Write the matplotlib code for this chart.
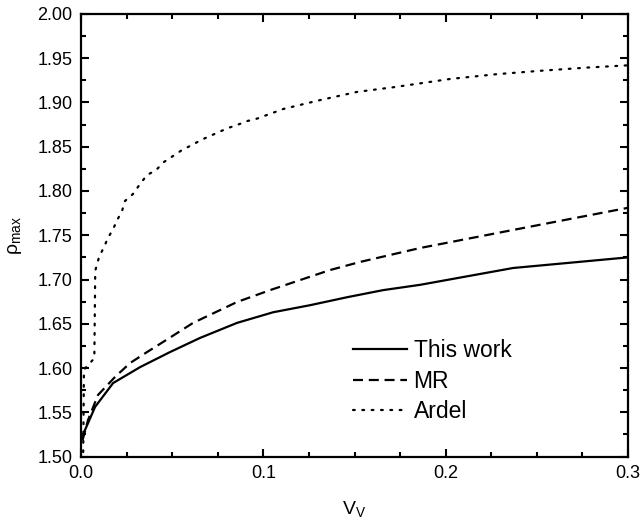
import matplotlib.pyplot as plt
from matplotlib.ticker import MultipleLocator

plt.rcParams['font.family'] = ['Liberation Sans', 'DejaVu Sans']
plt.rcParams['mathtext.fontset'] = 'custom'
plt.rcParams['mathtext.rm'] = 'Liberation Sans'
plt.rcParams['mathtext.it'] = 'Liberation Sans:italic'

# This work
vv_this = [0.0008, 0.0022, 0.0077, 0.0176, 0.0324, 0.0488, 0.0653, 0.0856,
           0.1054, 0.1257, 0.146, 0.1657, 0.186, 0.237, 0.30]
rho_this = [1.522, 1.530, 1.556, 1.583, 1.601, 1.618, 1.634, 1.651,
            1.663, 1.671, 1.680, 1.688, 1.694, 1.713, 1.725]

# MR
vv_mr = [0.0008, 0.0038, 0.0093, 0.0187, 0.0269, 0.0362, 0.045, 0.0615,
         0.0856, 0.1037, 0.1202, 0.1366, 0.153, 0.1695, 0.186, 0.237, 0.30]
rho_mr = [1.518, 1.541, 1.5695, 1.590, 1.6056, 1.618, 1.6294, 1.651,
          1.6746, 1.688, 1.6994, 1.7107, 1.7198, 1.7277, 1.7356, 1.756, 1.781]

# Ardel
vv_ardel = [0.0012, 0.0014, 0.0016, 0.0033, 0.0073, 0.0078, 0.0099, 0.0126,
            0.0148, 0.0176, 0.0198, 0.0225, 0.0241, 0.0285, 0.0324, 0.0362,
            0.0412, 0.0455, 0.0505, 0.0554, 0.0609, 0.0658, 0.0708, 0.0757,
            0.0807, 0.0856, 0.0911, 0.096, 0.111, 0.1317, 0.1515, 0.1723,
            0.2025, 0.228, 0.253, 0.278, 0.30]
rho_ardel = [1.505, 1.550, 1.598, 1.602, 1.611, 1.710, 1.7254, 1.7367,
             1.747, 1.757, 1.767, 1.7774, 1.7887, 1.7966, 1.808, 1.818,
             1.8237, 1.8328, 1.8396, 1.8463, 1.852, 1.8576, 1.8622, 1.8667,
             1.8712, 1.8746, 1.879, 1.8814, 1.8927, 1.903, 1.912, 1.9175,
             1.9266, 1.932, 1.936, 1.9395, 1.942]

fig = plt.figure(figsize=(6.41, 5.24), dpi=100)
ax = fig.add_axes([0.1264, 0.1288, 0.8533, 0.8445])

ax.plot(vv_this, rho_this, color='black', lw=1.6, ls='-', label='This work')
ax.plot(vv_mr, rho_mr, color='black', lw=1.6, ls=(0, (4.5, 2.6)), label='MR')
ax.plot(vv_ardel, rho_ardel, color='black', lw=1.6, ls=(0, (0.8, 3.4)),
        dash_capstyle='round', label='Ardel')

ax.set_xlim(0.0, 0.3)
ax.set_ylim(1.50, 2.00)
ax.xaxis.set_major_locator(MultipleLocator(0.1))
ax.xaxis.set_minor_locator(MultipleLocator(0.025))
ax.yaxis.set_major_locator(MultipleLocator(0.05))
ax.yaxis.set_minor_locator(MultipleLocator(0.025))
ax.set_xticks([0.0, 0.1, 0.2, 0.3])
ax.set_xticklabels(['0.0', '0.1', '0.2', '0.3'])
ax.set_yticks([1.50, 1.55, 1.60, 1.65, 1.70, 1.75, 1.80, 1.85, 1.90, 1.95, 2.00])
ax.set_yticklabels(['%.2f' % v for v in ax.get_yticks()])

ax.tick_params(which='both', direction='in', top=True, right=True,
               width=1.5, labelsize=13, pad=6)
ax.tick_params(which='major', length=6)
ax.tick_params(which='minor', length=3.5)
for sp in ax.spines.values():
    sp.set_linewidth(1.6)

ax.set_xlabel(r'$\mathrm{V_V}$', fontsize=14, labelpad=12)
ax.set_ylabel(r'$\mathrm{\rho_{max}}$', fontsize=14, labelpad=10)

ax.legend(loc='center left', bbox_to_anchor=(0.497, 0.17), frameon=False,
          fontsize=16.5, handlelength=2.35, handletextpad=0.3,
          labelspacing=0.32, borderpad=0, borderaxespad=0)

plt.savefig('out.png', dpi=100)
